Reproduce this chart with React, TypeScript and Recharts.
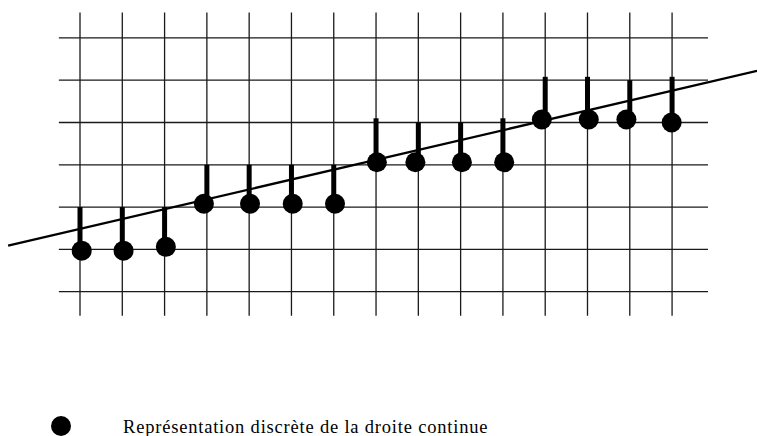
import { ComposedChart, XAxis, YAxis, Line, Scatter, ReferenceLine } from 'recharts';

// grid columns / rows (in grid units)
const columns = [0, 1, 2, 3, 4, 5, 6, 7, 8, 9, 10, 11, 12, 13, 14];
const rows = [0, 1, 2, 3, 4, 5, 6];

// discrete points (slightly off the grid as in the drawing)
const dotX = [0.04, 1.03, 2.03, 2.93, 4.02, 5.03, 6.03, 7.02, 7.93, 9.03, 10.03, 10.92, 12.03, 12.92, 13.99];
const dotY = [0.97, 0.97, 1.06, 2.08, 2.08, 2.08, 2.08, 3.06, 3.06, 3.06, 3.06, 4.07, 4.07, 4.07, 4.0];
// top of each vertical stem
const stemTop = [2, 2, 2, 3, 3, 3, 3, 4.1, 4, 4, 4.1, 5.08, 5.08, 5, 5.08];

// continuous line end points
const lineX = [-1.7, 16.01];
const lineY = [1.09, 5.22];

const legendLabel = 'Représentation discrète de la droite continue';

const dots = dotX.map((x, i) => ({ x, y: dotY[i] }));
const lineData = lineX.map((x, i) => ({ x, y: lineY[i] }));

const GRID_X0 = -0.5;
const GRID_X1 = 14.85;
const GRID_Y0 = -0.57;
const GRID_Y1 = 6.6;

export default function App() {
  return (
    <div style={{ position: 'absolute', left: 0, top: 0, width: 757, height: 436, background: '#fff', overflow: 'hidden' }}>
      <ComposedChart width={757} height={436} margin={{ top: 0, right: 0, bottom: 0, left: 0 }}>
        <XAxis type="number" dataKey="x" domain={[-1.8917, 16.008]} hide allowDataOverflow />
        <YAxis type="number" dataKey="y" domain={[-3.411, 6.896]} hide allowDataOverflow />
        {rows.map((r) => (
          <ReferenceLine
            key={'h' + r}
            segment={[{ x: GRID_X0, y: r }, { x: GRID_X1, y: r }]}
            stroke="#1a1a1a"
            strokeWidth={1.3}
          />
        ))}
        {columns.map((c) => (
          <ReferenceLine
            key={'v' + c}
            segment={[{ x: c, y: GRID_Y0 }, { x: c, y: GRID_Y1 }]}
            stroke="#1a1a1a"
            strokeWidth={1.3}
          />
        ))}
        {columns.map((c, i) => (
          <ReferenceLine
            key={'s' + c}
            segment={[{ x: c, y: dotY[i] }, { x: c, y: stemTop[i] }]}
            stroke="#000"
            strokeWidth={5}
          />
        ))}
        <Line
          data={lineData}
          dataKey="y"
          type="linear"
          stroke="#000"
          strokeWidth={2.2}
          dot={false}
          activeDot={false}
          isAnimationActive={false}
        />
        <Scatter
          data={dots}
          dataKey="y"
          fill="#000"
          isAnimationActive={false}
          shape={(p: any) => <circle cx={p.cx} cy={p.cy} r={10} fill="#000" />}
        />
      </ComposedChart>
      <svg width={757} height={436} style={{ position: 'absolute', left: 0, top: 0, pointerEvents: 'none' }}>
        <circle cx={61} cy={426} r={10} fill="#000" />
        <text
          x={123}
          y={433}
          fontFamily='"Liberation Serif", "Times New Roman", serif'
          fontSize={18.5}
          letterSpacing={0.8}
          fill="#000"
        >
          {legendLabel}
        </text>
      </svg>
    </div>
  );
}
